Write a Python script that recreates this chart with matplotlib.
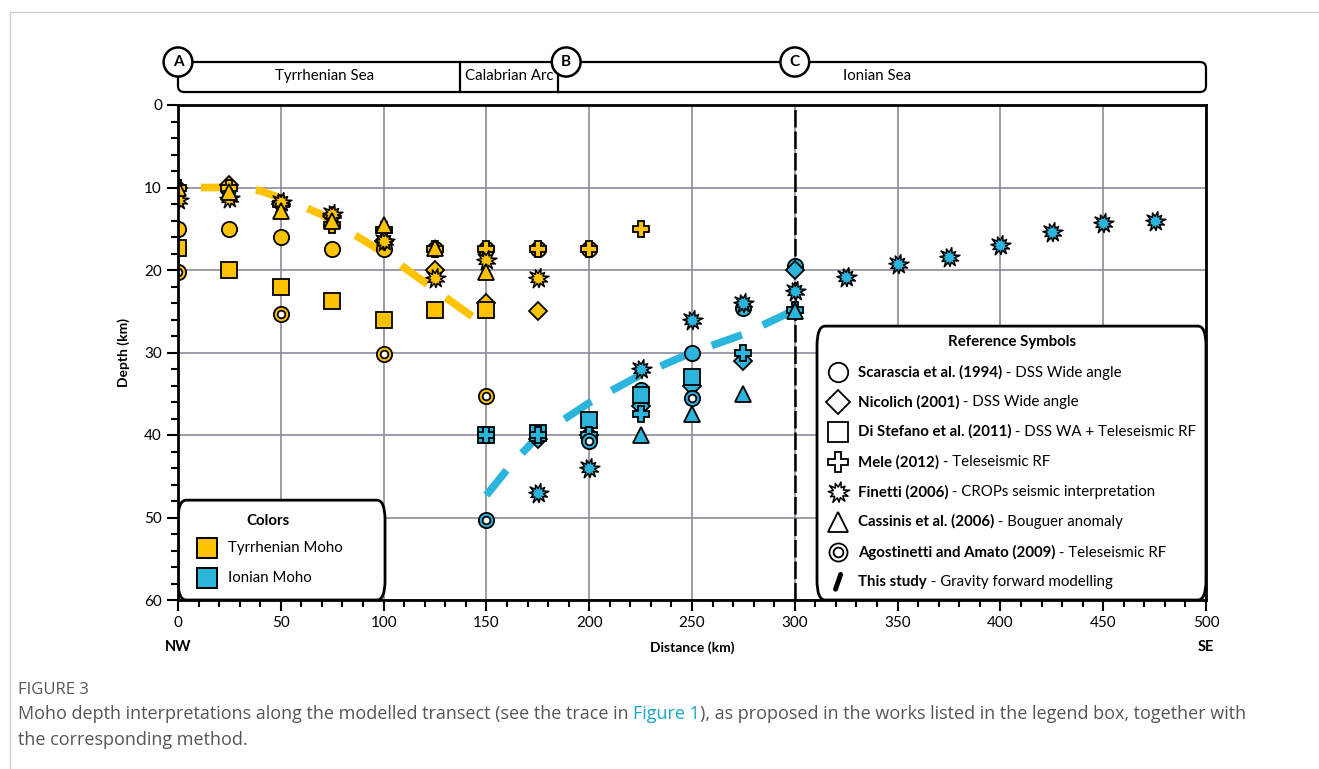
import numpy as np
import matplotlib
matplotlib.use("Agg")
import matplotlib.pyplot as plt
from matplotlib.path import Path
from matplotlib.patches import FancyBboxPatch, Ellipse
from matplotlib.lines import Line2D

plt.rcParams['font.family'] = ['Lato', 'DejaVu Sans']

# ---- data (distance km, depth km) ----
# Scarascia et al. (1994) - circle
scar_tyr_x = [0, 25, 50, 75, 100, 125, 150, 175, 200]
scar_tyr_y = [15, 15, 16, 17.5, 17.5, 17.5, 17.5, 17.5, 17.5]
scar_ion_x = [200, 225, 250, 275, 300]
scar_ion_y = [40.5, 34.6, 30, 24.6, 19.5]

# Nicolich (2001) - diamond
nic_tyr_x = [0, 25, 50, 75, 100, 125, 150, 175]
nic_tyr_y = [10, 9.7, 12, 13.5, 16.5, 20, 24, 25]
nic_ion_x = [175, 200, 225, 250, 275, 300]
nic_ion_y = [40.5, 40, 36.5, 34, 31, 20]

# Di Stefano et al. (2011) - square
dis_tyr_x = [0, 25, 50, 75, 100, 125, 150]
dis_tyr_y = [17.3, 20, 22, 23.8, 26, 24.8, 24.8]
dis_ion_x = [150, 175, 200, 225, 250]
dis_ion_y = [40, 39.7, 38.2, 35.2, 33]

# Mele (2012) - plus
mele_tyr_x = [0, 25, 50, 75, 100, 125, 150, 175, 200, 225]
mele_tyr_y = [10, 10, 12, 14.5, 15.2, 17.5, 17.5, 17.5, 17.5, 15]
mele_ion_x = [150, 175, 200, 225, 275, 300]
mele_ion_y = [40, 40, 40, 37.5, 30, 24.8]

# Finetti (2006) - star
fin_tyr_x = [0, 25, 50, 75, 100, 125, 150, 175]
fin_tyr_y = [11.5, 11.3, 11.8, 13.2, 16.5, 21, 18.8, 21]
fin_ion_x = [175, 200, 225, 250, 275, 300, 325, 350, 375, 400, 425, 450, 475]
fin_ion_y = [47, 44, 32, 26, 24, 22.5, 20.8, 19.3, 18.4, 17, 15.4, 14.3, 14]

# Cassinis et al. (2006) - triangle
cas_tyr_x = [0, 25, 50, 75, 100, 125, 150]
cas_tyr_y = [10, 10.5, 12.8, 14, 14.6, 17.3, 20.3]
cas_ion_x = [225, 250, 275, 300]
cas_ion_y = [40, 37.4, 35, 25]

# Agostinetti and Amato (2009) - double circle
ago_tyr_x = [0, 50, 100, 150]
ago_tyr_y = [20.2, 25.3, 30.2, 35.3]
ago_ion_x = [150, 200, 250]
ago_ion_y = [50.3, 40.7, 35.5]

# This study - gravity forward modelling
tyr_moho_x = [0, 25, 40, 57, 70, 85, 100, 125, 144]
tyr_moho_y = [10, 10, 10.4, 11.9, 13.3, 15.6, 17.9, 22.4, 25.8]
ion_moho_x = [150, 162, 175, 200, 225, 250, 275, 297]
ion_moho_y = [47.3, 43.6, 40.2, 36.1, 32.7, 30, 27.8, 25.2]

ref_labels = [("Scarascia et al. (1994)", " - DSS Wide angle"),
              ("Nicolich (2001)", " - DSS Wide angle"),
              ("Di Stefano et al. (2011)", " - DSS WA + Teleseismic RF"),
              ("Mele (2012)", " - Teleseismic RF"),
              ("Finetti (2006)", " - CROPs seismic interpretation"),
              ("Cassinis et al. (2006)", " - Bouguer anomaly"),
              ("Agostinetti and Amato (2009)", " - Teleseismic RF"),
              ("This study", " - Gravity forward modelling")]

YEL = '#FDC300'
BLU = '#2BB5DC'
GRID = '#8e8a9c'
CAP = ['Open Sans', 'DejaVu Sans']

# explosion shaped marker for Finetti
n_sp = 11
ang = np.linspace(0, 2 * np.pi, 2 * n_sp + 1)[:-1] + 0.2
outer = np.array([1.0, 0.8, 0.95, 0.85, 1.0, 0.9, 0.8, 1.0, 0.85, 0.95, 0.9])
rad = np.empty(2 * n_sp)
rad[0::2] = outer
rad[1::2] = 0.48
star_verts = np.column_stack([rad * np.cos(ang), rad * np.sin(ang)])
star_verts = np.vstack([star_verts, star_verts[:1]])
star_path = Path(star_verts, [Path.MOVETO] + [Path.LINETO] * (2 * n_sp - 1) + [Path.CLOSEPOLY])

fig = plt.figure(figsize=(13.19, 7.69), dpi=100)
ax = fig.add_axes([178 / 1319, 1 - 600 / 769, 1028 / 1319, 495 / 769])


def pts(xs, ys, marker, color, ms, mew=1.3):
    ax.plot(xs, ys, ls='none', marker=marker, ms=ms, mfc=color, mec='black', mew=mew, zorder=4)


def dbl(xs, ys, color):
    ax.plot(xs, ys, ls='none', marker='o', ms=11, mfc=color, mec='black', mew=1.3, zorder=4)
    ax.plot(xs, ys, ls='none', marker='o', ms=5.5, mfc='white', mec='black', mew=1.3, zorder=4)


for col, sets in [(YEL, 'tyr'), (BLU, 'ion')]:
    g = globals()
    pts(g['scar_%s_x' % sets], g['scar_%s_y' % sets], 'o', col, 11)
    pts(g['nic_%s_x' % sets], g['nic_%s_y' % sets], 'D', col, 9.5)
    pts(g['dis_%s_x' % sets], g['dis_%s_y' % sets], 's', col, 11)
    pts(g['mele_%s_x' % sets], g['mele_%s_y' % sets], 'P', col, 12)
    pts(g['fin_%s_x' % sets], g['fin_%s_y' % sets], star_path, col, 15, mew=1.1)
    pts(g['cas_%s_x' % sets], g['cas_%s_y' % sets], '^', col, 11)
    dbl(g['ago_%s_x' % sets], g['ago_%s_y' % sets], col)

ax.plot(tyr_moho_x, tyr_moho_y, color=YEL, lw=5.5, ls=(4.2, (4.2, 3.0)), solid_capstyle='butt', zorder=3)
ax.plot(ion_moho_x, ion_moho_y, color=BLU, lw=5.5, dashes=(4.2, 3.0), solid_capstyle='butt', zorder=3)

ax.axvline(300, color='black', lw=1.8, dashes=(7, 1.6), zorder=3)

ax.set_xlim(0, 500)
ax.set_ylim(60, 0)
ax.set_xticks(np.arange(0, 501, 50))
ax.set_xticks(np.arange(0, 501, 10), minor=True)
ax.set_yticks(np.arange(0, 61, 10))
ax.set_yticks(np.arange(0, 61, 2), minor=True)
ax.tick_params(which='major', direction='out', length=8, width=1.5, labelsize=11)
ax.tick_params(which='minor', direction='out', length=5, width=1.5)
ax.grid(which='major', color=GRID, lw=1.2, zorder=0)
ax.set_axisbelow(True)
for s in ax.spines.values():
    s.set_linewidth(2)
    s.set_zorder(10)
ax.set_ylabel('Depth (km)', fontsize=10, fontweight='bold', labelpad=10)
ax.set_xlabel('Distance (km)', fontsize=10, fontweight='bold', labelpad=8)
ax.text(0, -0.095, 'NW', transform=ax.transAxes, ha='center', va='center', fontsize=10.5, fontweight='bold')
ax.text(1, -0.095, 'SE', transform=ax.transAxes, ha='center', va='center', fontsize=10.5, fontweight='bold')

# Colors box
cbox = FancyBboxPatch((0, 47.9), 100.7, 12.1, boxstyle='round,pad=0,rounding_size=4',
                      mutation_aspect=0.6, fc='white', ec='black', lw=2, zorder=6)
ax.add_patch(cbox)
ax.text(43.8, 50.4, 'Colors', ha='center', va='center', fontsize=10.8, fontweight='bold', zorder=7)
for yy, c, lab in [(53.7, YEL, 'Tyrrhenian Moho'), (57.3, BLU, 'Ionian Moho')]:
    ax.plot([14.1], [yy], marker='s', ms=15, mfc=c, mec='black', mew=1.4, zorder=7)
    ax.text(24.3, yy, lab, ha='left', va='center', fontsize=10.8, zorder=7)

# Reference symbols box
rbox = FancyBboxPatch((310.8, 26.8), 189.2, 33.2, boxstyle='round,pad=0,rounding_size=4',
                      mutation_aspect=0.6, fc='white', ec='black', lw=2, zorder=6)
ax.add_patch(rbox)
ax.text(405.6, 28.7, 'Reference Symbols', ha='center', va='center', fontsize=10.8, fontweight='bold', zorder=7)
leg_y = [32.4, 36.0, 39.6, 43.3, 46.9, 50.5, 54.2, 57.8]
leg_m = ['o', 'D', 's', 'P', star_path, '^', 'dbl', 'line']
for yy, m, (b, n) in zip(leg_y, leg_m, ref_labels):
    if m == 'dbl':
        ax.plot([321], [yy], marker='o', ms=13, mfc='white', mec='black', mew=1.3, zorder=7)
        ax.plot([321], [yy], marker='o', ms=7, mfc='white', mec='black', mew=1.3, zorder=7)
    elif m == 'line':
        ax.plot([319.8, 322.3], [yy + 0.9, yy - 0.9], color='black', lw=3.5, solid_capstyle='round', zorder=7)
    elif m is star_path:
        ax.plot([321], [yy], marker=m, ms=16, mfc='white', mec='black', mew=1.1, zorder=7)
    else:
        ax.plot([321], [yy], marker=m, ms=14 if m != 'D' else 12, mfc='white', mec='black', mew=1.3, zorder=7)
    tb = ax.text(330.7, yy, b, ha='left', va='center', fontsize=10.8, fontweight='bold', zorder=7)
    ax.annotate(n, xy=(1, 0), xycoords=tb, ha='left', va='bottom', fontsize=10.8, zorder=7)

# top transect bar
axt = fig.add_axes([178 / 1319, 1 - 97 / 769, 1028 / 1319, 52 / 769])
axt.set_xlim(0, 500)
axt.set_ylim(0, 1)
axt.axis('off')
bar = FancyBboxPatch((0, 0.096), 500, 0.577, boxstyle='round,pad=0,rounding_size=3',
                     mutation_aspect=0.039, fc='white', ec='black', lw=1.6, clip_on=False)
axt.add_patch(bar)
for xd in [137, 185]:
    axt.plot([xd, xd], [0.096, 0.673], color='black', lw=1.6)
for xc, lab in [(0, 'A'), (188.8, 'B'), (300, 'C')]:
    axt.add_patch(Ellipse((xc, 0.673), 14, 0.56, fc='white', ec='black', lw=1.8, clip_on=False, zorder=5))
    axt.text(xc, 0.673, lab, ha='center', va='center', fontsize=11, fontweight='bold', zorder=6)
axt.text(71.5, 0.40, 'Tyrrhenian Sea', ha='center', va='center', fontsize=10.8)
axt.text(161, 0.40, 'Calabrian Arc', ha='center', va='center', fontsize=10.8)
axt.text(340, 0.40, 'Ionian Sea', ha='center', va='center', fontsize=10.8)

# frame lines and caption
fig.add_artist(Line2D([10 / 1319, 1], [1 - 12 / 769] * 2, color='#d0d0d0', lw=1))
fig.add_artist(Line2D([10 / 1319] * 2, [0, 1 - 12 / 769], color='#d0d0d0', lw=1))
fig.text(18 / 1319, 1 - 690 / 769, 'FIGURE 3', ha='left', va='center', fontsize=12, color='#555555', family=CAP)
c1 = fig.text(18 / 1319, 1 - 714 / 769, 'Moho depth interpretations along the modelled transect (see the trace in ',
              ha='left', va='center', fontsize=13, color='#555555', family=CAP)
a2 = plt.annotate('Figure 1', xy=(1, 0), xycoords=c1, ha='left', va='bottom', fontsize=13,
                  color='#1aa6c4', family=CAP, annotation_clip=False)
plt.annotate('), as proposed in the works listed in the legend box, together with', xy=(1, 0), xycoords=a2,
             ha='left', va='bottom', fontsize=13, color='#555555', family=CAP, annotation_clip=False)
fig.text(18 / 1319, 1 - 740 / 769, 'the corresponding method.', ha='left', va='center', fontsize=13,
         color='#555555', family=CAP)

plt.savefig('out.png', dpi=100)
